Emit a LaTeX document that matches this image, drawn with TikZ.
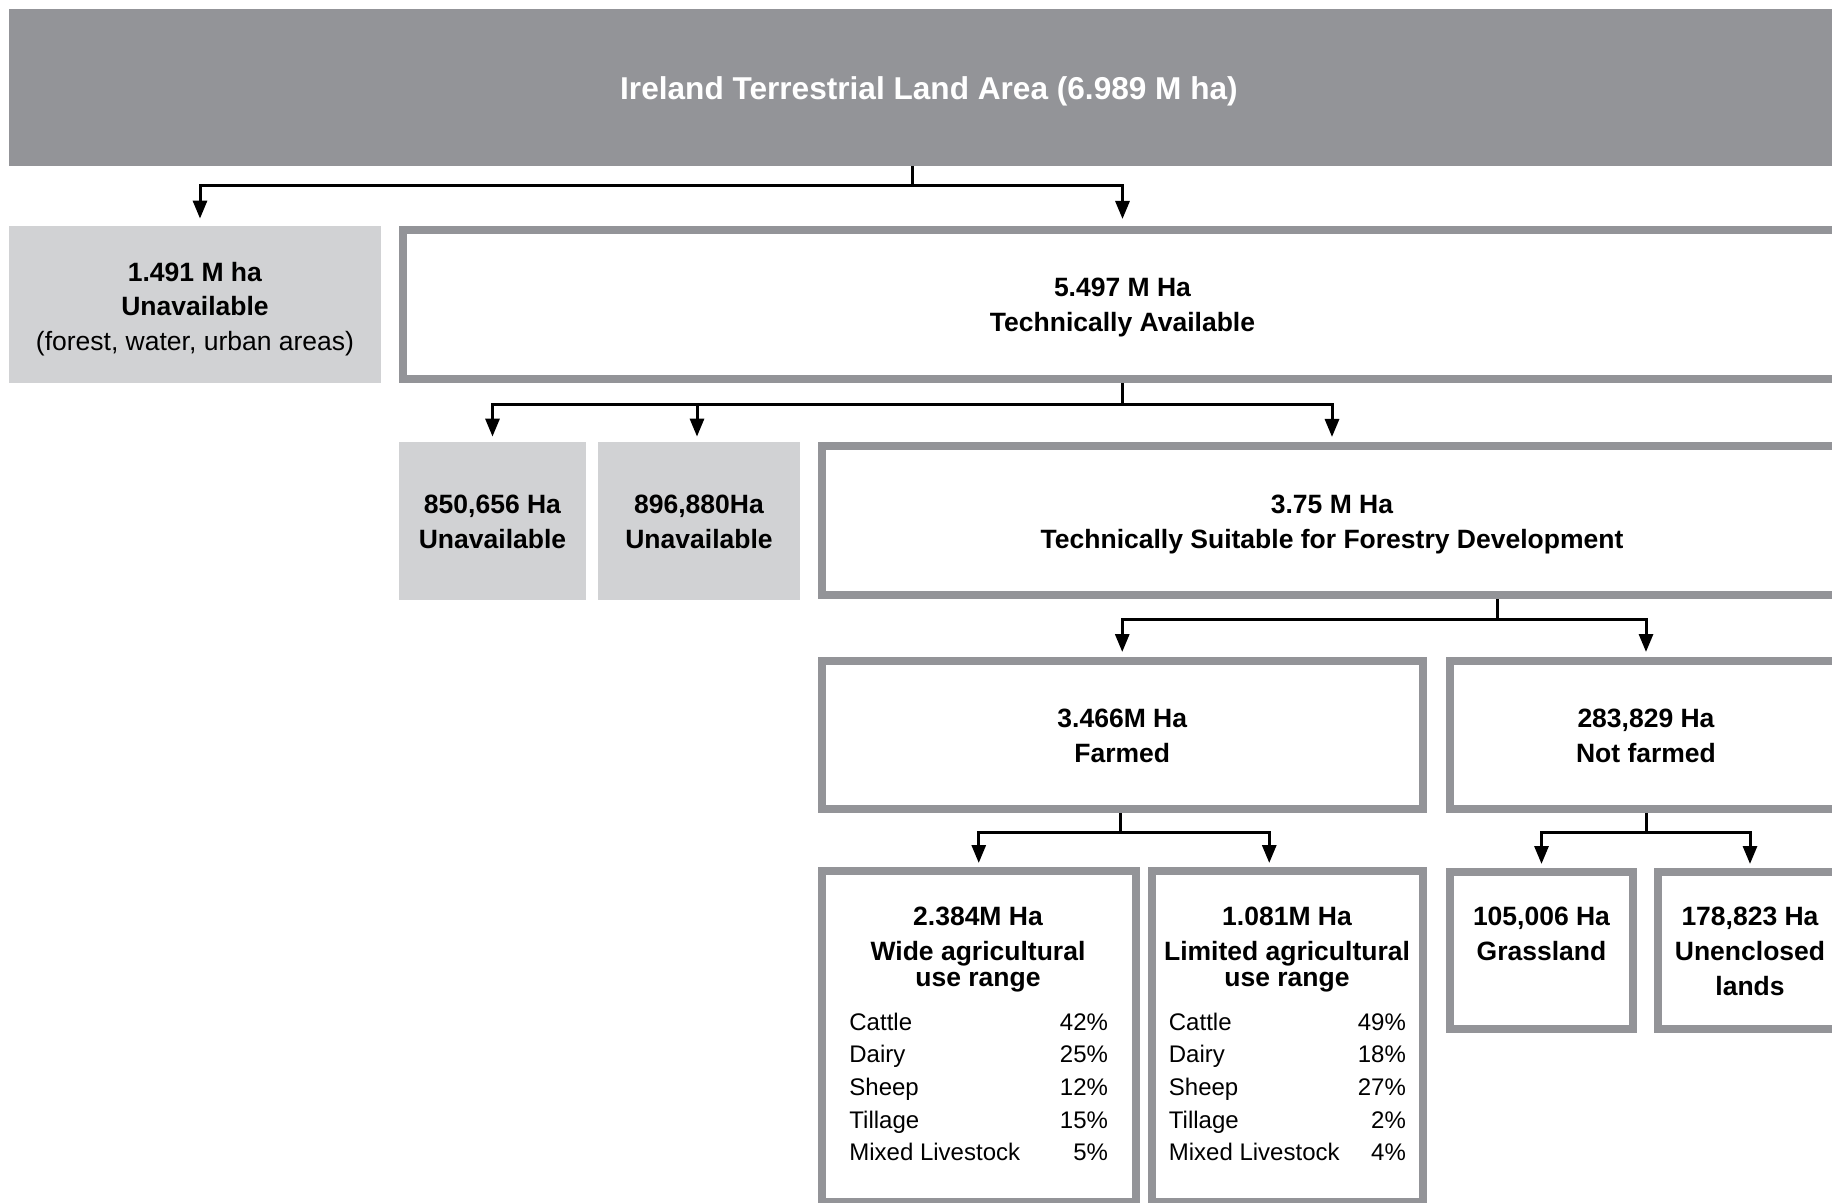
\documentclass[tikz,border=0pt]{standalone}
\usepackage{fontspec}
\setmainfont{Liberation Sans}
\usetikzlibrary{arrows.meta}
\definecolor{boxgray}{HTML}{939498}
\definecolor{palegray}{HTML}{D1D2D4}
\begin{document}
\begin{tikzpicture}[x=0.5pt,y=-0.5pt,
  every node/.style={inner sep=0pt},
  titlebox/.style={fill=boxgray},
  titletext/.style={text=white, font=\bfseries\fontsize{15.8}{19}\selectfont},
  darkbox/.style={draw=boxgray, line width=4pt, fill=white},
  palebox/.style={fill=palegray},
  boxtext/.style={align=center, font=\bfseries\fontsize{13.25}{17.5}\selectfont},
  paletext/.style={align=center, font=\fontsize{13.25}{17.25}\selectfont},
  head/.style={align=center, anchor=north, font=\bfseries\fontsize{13.25}{17.5}\selectfont},
  tabtext/.style={anchor=base west, font=\fontsize{12}{16.35}\selectfont},
  link/.style={line width=1.5pt},
  arr/.style={line width=1.5pt, -{Triangle[length=9pt,width=7pt]}, shorten >=2.5pt},
]
\useasboundingbox (0,0) rectangle (1832,1203);
\fill[white] (0,0) rectangle (1832,1203);
\clip (0,0) rectangle (1832,1203);

% boxes
\node[titlebox, minimum width=920pt, minimum height=78.5pt] (title) at (929,87.5) {};
\node[palebox, minimum width=186pt, minimum height=78.5pt] (unav1) at (195,304.5) {};
\node[darkbox, minimum width=719.5pt, minimum height=74.5pt] (avail) at (1122.5,304.5) {};
\node[palebox, minimum width=93.5pt, minimum height=79pt] (un2) at (492.5,521) {};
\node[palebox, minimum width=101pt, minimum height=79pt] (un3) at (699,521) {};
\node[darkbox, minimum width=510pt, minimum height=74.5pt] (suit) at (1332,520.5) {};
\node[darkbox, minimum width=300.75pt, minimum height=74pt] (farmed) at (1122.25,735) {};
\node[darkbox, minimum width=196pt, minimum height=74pt] (notfarmed) at (1646,735) {};
\node[darkbox, minimum width=157.25pt, minimum height=165.5pt] (wide) at (978.75,1036.5) {};
\node[darkbox, minimum width=135.75pt, minimum height=165.5pt] (limited) at (1287.25,1036.5) {};
\node[darkbox, minimum width=91.5pt, minimum height=78.5pt] (grass) at (1541.5,950.5) {};
\node[darkbox, minimum width=92pt, minimum height=78.5pt] (unencl) at (1750,950.5) {};

% texts
\node[titletext] (titlet) at ([yshift=-1.75pt]title.center) {Ireland Terrestrial Land Area (6.989 M ha)};
\node[paletext] (unav1t) at ([yshift=-2.1pt]unav1.center) {\textbf{1.491 M ha}\\\textbf{Unavailable}\\(forest, water, urban areas)};
\node[boxtext] (availt) at ([yshift=-1.75pt]avail.center) {5.497 M Ha\\Technically Available};
\node[boxtext] (un2t) at ([yshift=-0.6pt]un2.center) {850,656 Ha\\Unavailable};
\node[boxtext] (un3t) at ([yshift=-0.6pt]un3.center) {896,880Ha\\Unavailable};
\node[boxtext] (suitt) at ([yshift=-1.75pt]suit.center) {3.75 M Ha\\Technically Suitable for Forestry Development};
\node[boxtext] (farmedt) at ([yshift=-0.6pt]farmed.center) {3.466M Ha\\Farmed};
\node[boxtext] (notfarmedt) at ([yshift=-0.6pt]notfarmed.center) {283,829 Ha\\Not farmed};
\node[head] (wideh) at (978,906.5) {2.384M Ha\\Wide agricultural\\[-4.5pt]use range};
\node[head] (limh) at (1287,906.5) {1.081M Ha\\Limited agricultural\\[-4.5pt]use range};
\node[head] (grassh) at (1541.5,906.5) {105,006 Ha\\Grassland};
\node[head] (unench) at (1750,906.5) {178,823 Ha\\Unenclosed\\lands};
\node[tabtext] (widet) at (849,1030) {\begin{tabular*}{129.3pt}[t]{@{}l@{\extracolsep{\fill}}r@{}}Cattle & 42\%\\ Dairy & 25\%\\ Sheep & 12\%\\ Tillage & 15\%\\ Mixed Livestock & 5\%\end{tabular*}};
\node[tabtext] (limt) at (1168.5,1030) {\begin{tabular*}{118.5pt}[t]{@{}l@{\extracolsep{\fill}}r@{}}Cattle & 49\%\\ Dairy & 18\%\\ Sheep & 27\%\\ Tillage & 2\%\\ Mixed Livestock & 4\%\end{tabular*}};

% connectors
\coordinate (j1) at (912,186);
\draw[link] (j1 |- title.south) -- (j1);
\draw[arr, shorten >=3.5pt] (j1) -| ([xshift=2.5pt]unav1.north);
\draw[arr, shorten >=3.5pt] (j1) -| (avail.north);

\coordinate (j2) at (1122.5,405);
\draw[link] (avail.south) -- (j2);
\draw[arr] (j2) -| (un2.north);
\draw[arr] (j2) -| ([xshift=-1pt]un3.north);
\draw[arr] (j2) -| (suit.north);

\coordinate (j3) at (1497,619);
\draw[link] (j3 |- suit.south) -- (j3);
\draw[arr] (j3) -| (farmed.north);
\draw[arr] (j3) -| (notfarmed.north);

\coordinate (j4) at (1120,832);
\draw[link] (j4 |- farmed.south) -- (j4);
\draw[arr, shorten >=2pt] (j4) -| (wide.north);
\draw[arr, shorten >=2pt] (j4) -| ([xshift=-9pt]limited.north);

\coordinate (j5) at (1646,832);
\draw[link] (notfarmed.south) -- (j5);
\draw[arr, shorten >=2pt] (j5) -| (grass.north);
\draw[arr, shorten >=2pt] (j5) -| (unencl.north);
\end{tikzpicture}
\end{document}
